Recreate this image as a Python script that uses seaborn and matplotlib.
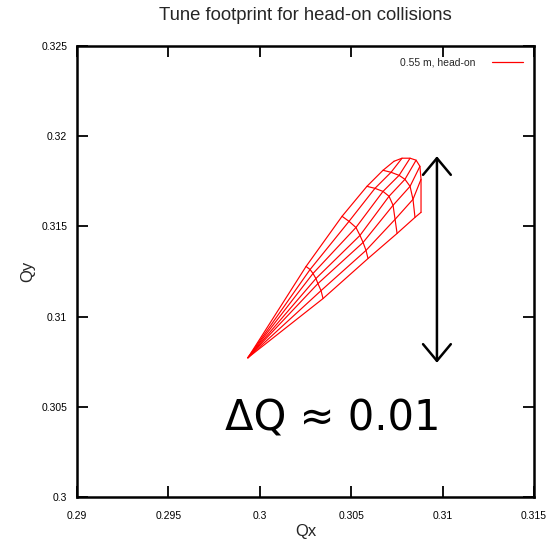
import numpy as np
import pandas as pd
import matplotlib
matplotlib.use("Agg")
import matplotlib.pyplot as plt
from matplotlib.lines import Line2D
import seaborn as sns

# ---- data: tune footprint mesh ----
tip_qx = 0.29935
tip_qy = 0.30772

# constant-amplitude arcs, from upper-left edge (j=0) to lower-right edge (j=6)
arc1_qx = [0.30253, 0.30275, 0.30291, 0.30307, 0.30318, 0.30335, 0.30346]
arc1_qy = [0.31278, 0.31261, 0.31239, 0.31211, 0.31183, 0.31144, 0.31100]
arc2_qx = [0.30450, 0.30488, 0.30526, 0.30548, 0.30565, 0.30581, 0.30592]
arc2_qy = [0.31556, 0.31528, 0.31494, 0.31450, 0.31411, 0.31367, 0.31322]
arc3_qx = [0.30586, 0.30630, 0.30674, 0.30707, 0.30729, 0.30740, 0.30751]
arc3_qy = [0.31722, 0.31711, 0.31694, 0.31667, 0.31617, 0.31539, 0.31461]
arc4_qx = [0.30674, 0.30718, 0.30762, 0.30794, 0.30822, 0.30838, 0.30849]
arc4_qy = [0.31811, 0.31800, 0.31783, 0.31761, 0.31722, 0.31650, 0.31550]
arc5_qx = [0.30734, 0.30778, 0.30822, 0.30855, 0.30876, 0.30882, 0.30882]
arc5_qy = [0.31861, 0.31878, 0.31878, 0.31867, 0.31833, 0.31761, 0.31578]

x_ticks = [0.29, 0.295, 0.3, 0.305, 0.31, 0.315]
x_tick_labels = ["0.29", "0.295", "0.3", "0.305", "0.31", "0.315"]
y_ticks = [0.3, 0.305, 0.31, 0.315, 0.32, 0.325]
y_tick_labels = ["0.3", "0.305", "0.31", "0.315", "0.32", "0.325"]
legend_label = "0.55 m, head-on"

# ---- build long table of mesh lines ----
arcs_qx = [arc1_qx, arc2_qx, arc3_qx, arc4_qx, arc5_qx]
arcs_qy = [arc1_qy, arc2_qy, arc3_qy, arc4_qy, arc5_qy]
rows = []
n_ang = len(arc1_qx)
for j in range(n_ang):  # radial lines
    rows.append(("r%d" % j, 0, tip_qx, tip_qy))
    for i, (ax_, ay_) in enumerate(zip(arcs_qx, arcs_qy)):
        rows.append(("r%d" % j, i + 1, ax_[j], ay_[j]))
for i, (ax_, ay_) in enumerate(zip(arcs_qx, arcs_qy)):  # arcs
    for j in range(n_ang):
        rows.append(("a%d" % i, j, ax_[j], ay_[j]))
df = pd.DataFrame(rows, columns=["line", "order", "Qx", "Qy"])

sns.set_theme(style="white")
narrow = ["Liberation Sans Narrow", "Liberation Sans", "DejaVu Sans"]
plt.rcParams["font.family"] = narrow

fig = plt.figure(figsize=(5.48, 5.41), dpi=100)
L, R, T, B = 77, 534, 46, 497
ax = fig.add_axes([L / 548, 1 - B / 541, (R - L) / 548, (B - T) / 541])

sns.lineplot(data=df, x="Qx", y="Qy", units="line", estimator=None,
             sort=False, color="#ff0000", linewidth=0.85, ax=ax, legend=False)

ax.set_xlim(0.29, 0.315)
ax.set_ylim(0.3, 0.325)
ax.set_xticks(x_ticks)
ax.set_xticklabels(x_tick_labels)
ax.set_yticks(y_ticks)
ax.set_yticklabels(y_tick_labels)
ax.tick_params(direction="in", length=8, width=1.3, top=True, right=True,
               bottom=True, left=True, labelsize=7.5, colors="black")
ax.tick_params(axis="x", pad=10)
ax.tick_params(axis="y", pad=7)
for s in ax.spines.values():
    s.set_color("black")
    s.set_linewidth(1.8)
ax.set_xlabel("Qx", fontsize=12, labelpad=2)
ax.set_ylabel("Qy", fontsize=12, labelpad=4)

ax.legend(handles=[Line2D([], [], color="#ff0000", linewidth=0.9)],
          labels=[legend_label], loc="upper right", frameon=False,
          markerfirst=False, fontsize=7.5, handlelength=2.9,
          handletextpad=1.6, borderaxespad=0.7)

fig.text((L + R) / 2 / 548, 1 - 16 / 541,
         "Tune footprint for head-on collisions",
         ha="center", va="center", fontsize=13.3)

# annotation arrow and delta-Q text
ax.annotate("", xy=(0.30969, 0.31889), xytext=(0.30969, 0.30744),
            arrowprops=dict(arrowstyle="<->,head_length=0.6,head_width=0.5",
                            lw=1.8, color="black", mutation_scale=20,
                            shrinkA=0, shrinkB=0))
fig.text(225 / 548, 1 - 430 / 541, "\u0394Q \u2248 0.01",
         ha="left", va="baseline", fontsize=30,
         family=["DejaVu Sans"], color="black")

fig.savefig("out.png", dpi=100)
